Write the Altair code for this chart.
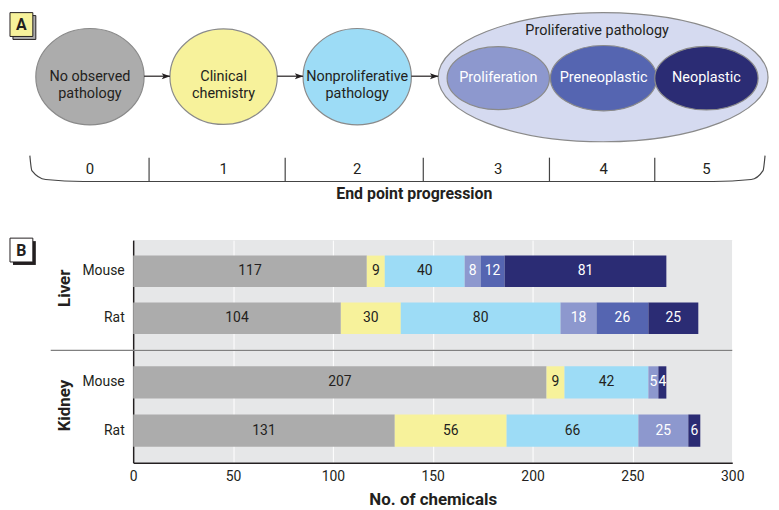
import altair as alt
import pandas as pd

# ---------------- data ----------------
stages = ["No observed pathology", "Clinical chemistry", "Nonproliferative pathology",
          "Proliferation", "Preneoplastic", "Neoplastic"]
species = ["Mouse", "Rat"]
liver_mouse = [117, 9, 40, 8, 12, 81]
liver_rat = [104, 30, 80, 18, 26, 25]
kidney_mouse = [207, 9, 42, 5, 0, 4]
kidney_rat = [131, 56, 66, 25, 0, 6]
x_ticks = [0, 50, 100, 150, 200, 250, 300]

# diagram (panel A)
node_keys = ["s0", "s1", "s2", "grp", "s3", "s4", "s5"]
node_labels = ["No observed\npathology", "Clinical\nchemistry", "Nonproliferative\npathology",
               "", "Proliferation", "Preneoplastic", "Neoplastic"]
node_kind = ["stage", "stage", "stage", "group", "sub", "sub", "sub"]
node_cx = [89.5, 224, 358.5, 606, 500.5, 606.5, 710]
node_cy = [73.5, 73.5, 73.5, 74, 75, 75, 75]
node_w = [109, 108, 109, 332, 103, 107, 104]
step_labels = ["0", "1", "2", "3", "4", "5"]
step_dividers = [149, 286, 425, 552, 658]
arrow_from = [144, 278, 413]
arrow_to = [170, 304, 440]
bracket_x = [29, 31, 45, 83, 717, 755, 767, 769]
bracket_y = [153, 168, 177, 179, 179, 177, 168, 153]

# ---------------- style ----------------
FONT = "Roboto, Liberation Sans, sans-serif"
DARK = "#231f20"
COLORS = ["#acacac", "#f7f29b", "#9ddcf6", "#8d98ce", "#5565b1", "#2b2c74"]
NODE_FILL = ["#acacac", "#f7f29b", "#9ddcf6", "#d5daf0", "#8d98ce", "#5565b1", "#2b2c74"]


def ellipse(k):
    c = 0.5523
    a = round(c * k, 4)
    return (f"M -1 0 C -1 -{a} -{c} -{k} 0 -{k} C {c} -{k} 1 -{a} 1 0 "
            f"C 1 {a} {c} {k} 0 {k} C -{c} {k} -1 {a} -1 0 Z")


SHAPES = [ellipse(0.89), ellipse(0.3916), ellipse(0.615)]

wA, hA = 603, 227
XS = alt.Scale(domain=[133, 736], nice=False, zero=False)
YS = alt.Scale(domain=[8, 8 + hA], nice=False, zero=False, reverse=True)


def X(f):
    return alt.X(f, type="quantitative", scale=XS, axis=None)


def Y(f):
    return alt.Y(f, type="quantitative", scale=YS, axis=None)


nodes = pd.DataFrame({"key": node_keys, "label": node_labels, "kind": node_kind,
                      "cx": node_cx, "cy": node_cy, "w": node_w})

ell = alt.Chart(nodes).transform_calculate(sz="datum.w*datum.w").mark_point(
    filled=True, opacity=1, stroke="#8a8a8a", strokeWidth=1.2).encode(
    x=X("cx"), y=Y("cy"),
    shape=alt.Shape("kind:N", scale=alt.Scale(domain=["stage", "group", "sub"], range=SHAPES), legend=None),
    size=alt.Size("sz:Q", scale=None, legend=None),
    fill=alt.Fill("key:N", scale=alt.Scale(domain=node_keys, range=NODE_FILL), legend=None),
)
node_text = alt.Chart(nodes).transform_filter("datum.kind != 'group'").mark_text(
    font=FONT, fontSize=14.5, lineBreak="\n", lineHeight=17, baseline="middle").encode(
    x=X("cx"), y=Y("cy"), text="label:N",
    color=alt.condition("datum.kind == 'sub'", alt.value("white"), alt.value(DARK)))
grp_text = alt.Chart(pd.DataFrame({"t": ["Proliferative pathology"], "x": [600], "y": [28]})).mark_text(
    font=FONT, fontSize=14.5, color=DARK).encode(x=X("x"), y=Y("y"), text="t:N")

arrows = pd.DataFrame({"x1": arrow_from, "x2": arrow_to, "y": [73] * 3})
arrow_line = alt.Chart(arrows).mark_rule(color=DARK, strokeWidth=1.2).encode(
    x=X("x1"), x2="x2:Q", y=Y("y"))
arrow_head = alt.Chart(arrows).transform_calculate(hx="datum.x2 - 4").mark_point(
    filled=True, opacity=1, color=DARK, size=72,
    shape="M -1 -0.7 L 1 0 L -1 0.7 L -0.55 0 Z").encode(x=X("hx"), y=Y("y"))

# bracket
bracket = alt.Chart(pd.DataFrame({"x": bracket_x, "y": bracket_y, "o": list(range(len(bracket_x)))})).mark_line(
    color="#444444", strokeWidth=1.2, interpolate="monotone").encode(
    x=X("x"), y=Y("y"), order="o:Q")
dividers = alt.Chart(pd.DataFrame({"x": step_dividers, "y1": [155] * 5, "y2": [179] * 5})).mark_rule(
    color="#444444", strokeWidth=1.2).encode(x=X("x"), y=Y("y1"), y2="y2:Q")
step_txt = alt.Chart(pd.DataFrame({"t": step_labels, "x": [n for n, k in zip(node_cx, node_kind) if k != "group"],
                                   "y": [166] * 6})).mark_text(font=FONT, fontSize=15, color=DARK).encode(
    x=X("x"), y=Y("y"), text="t:N")
prog_txt = alt.Chart(pd.DataFrame({"t": ["End point progression"], "x": [416], "y": [192]})).mark_text(
    font=FONT, fontSize=16, fontWeight="bold", color=DARK).encode(x=X("x"), y=Y("y"), text="t:N")

# panel letter A
boxA = pd.DataFrame({"x1": [12, 9], "x2": [35, 32], "y1": [12, 9], "y2": [36, 33], "k": ["s", "b"]})
boxA_rect = alt.Chart(boxA).mark_rect(strokeWidth=1).encode(
    x=X("x1"), x2="x2:Q", y=Y("y1"), y2="y2:Q",
    fill=alt.Fill("k:N", scale=alt.Scale(domain=["s", "b"], range=[DARK, "white"]), legend=None),
    stroke=alt.Stroke("k:N", scale=alt.Scale(domain=["s", "b"], range=[DARK, DARK]), legend=None))
boxA_txt = alt.Chart(pd.DataFrame({"t": ["A"], "x": [20.5], "y": [21.5]})).mark_text(
    font=FONT, fontSize=16, fontWeight="bold", color=DARK).encode(x=X("x"), y=Y("y"), text="t:N")

panelA = alt.layer(ell, node_text, grp_text, arrow_line, arrow_head, bracket,
                   dividers, step_txt, prog_txt, boxA_rect, boxA_txt).properties(
    width=wA, height=hA, view=alt.ViewBackground(fill=None, stroke=None))

# ---------------- panel B ----------------
rows = []
for organ, sp, vals in [("Liver", "Mouse", liver_mouse), ("Liver", "Rat", liver_rat),
                        ("Kidney", "Mouse", kidney_mouse), ("Kidney", "Rat", kidney_rat)]:
    for i, (st, v) in enumerate(zip(stages, vals)):
        rows.append({"organ": organ, "species": sp, "stage": st, "idx": i, "value": v})
df = pd.DataFrame(rows)


def organ_panel(organ, height, bottom, title_y):
    d = df[df.organ == organ]
    if bottom:
        xaxis = alt.Axis(values=x_ticks, grid=True, gridColor="white", gridWidth=1, ticks=False,
                         domainColor=DARK, domainWidth=1.5, labelFont=FONT, labelFontSize=14,
                         labelColor=DARK, labelPadding=7, labelFlush=False,
                         title="No. of chemicals", titleFont=FONT,
                         titleFontSize=17, titleFontWeight="bold", titleColor=DARK, titlePadding=8)
    else:
        xaxis = alt.Axis(values=x_ticks, grid=True, gridColor="white", gridWidth=1, ticks=False,
                         labels=False, domain=False, title=None)
    yaxis = alt.Axis(ticks=False, domainColor=DARK, domainWidth=1.5, labelFont=FONT, labelFontSize=14,
                     labelColor=DARK, labelPadding=9, title=organ, titleFont=FONT, titleFontSize=17,
                     titleFontWeight="bold", titleColor=DARK, titleAngle=-90, titleX=-69, titleY=title_y,
                     titleBaseline="middle", titleAlign="center")
    xs = alt.Scale(domain=[0, 300], nice=False, zero=True)
    ysc = alt.Scale(domain=species, paddingInner=0.33, paddingOuter=0.33)
    base = alt.Chart(d)
    bars = base.mark_bar().encode(
        x=alt.X("value:Q", stack="zero", scale=xs, axis=xaxis),
        y=alt.Y("species:N", sort=species, scale=ysc, axis=yaxis),
        color=alt.Color("stage:N", scale=alt.Scale(domain=stages, range=COLORS), legend=None),
        order=alt.Order("idx:Q", sort="ascending"),
    )
    txt = base.transform_window(
        cum="sum(value)", groupby=["species"], sort=[alt.SortField("idx", order="ascending")],
        frame=[None, 0]).transform_calculate(mid="datum.cum - datum.value/2").transform_filter(
        "datum.value > 0").mark_text(font=FONT, fontSize=14, baseline="middle").encode(
        x=alt.X("mid:Q", scale=xs, axis=xaxis),
        y=alt.Y("species:N", sort=species, scale=ysc, axis=yaxis),
        text="value:Q",
        color=alt.condition("datum.idx >= 3", alt.value("white"), alt.value(DARK)),
    )
    layers = [bars, txt]
    one = alt.Chart(pd.DataFrame({"k": [0]}))
    if bottom:
        layers.append(one.mark_rule(color="#808080", strokeWidth=1.2).encode(
            x=alt.value(-83), x2=alt.value(603), y=alt.value(0)))
    else:
        layers.append(one.mark_rect(fill=DARK).encode(
            x=alt.value(-121), x2=alt.value(-98), y=alt.value(1), y2=alt.value(25)))
        layers.append(one.mark_rect(fill="white", stroke=DARK, strokeWidth=1).encode(
            x=alt.value(-124), x2=alt.value(-101), y=alt.value(-2), y2=alt.value(22)))
        layers.append(one.mark_text(font=FONT, fontSize=16, fontWeight="bold", color=DARK).encode(
            x=alt.value(-112.5), y=alt.value(10.5), text=alt.value("B")))
    return alt.layer(*layers).properties(
        width=603, height=height, view=alt.ViewBackground(fill="#e6e7e8", stroke=None))


liver = organ_panel("Liver", 110, False, 48)
kidney = organ_panel("Kidney", 113, True, 55)

chart = alt.vconcat(panelA, liver, kidney, spacing=0).properties(
    padding={"left": 1, "top": 0, "right": 0, "bottom": 0}
).configure_view(stroke=None).configure(background="white")

chart.save("out.html", embed_options={"renderer": "svg", "actions": False})
